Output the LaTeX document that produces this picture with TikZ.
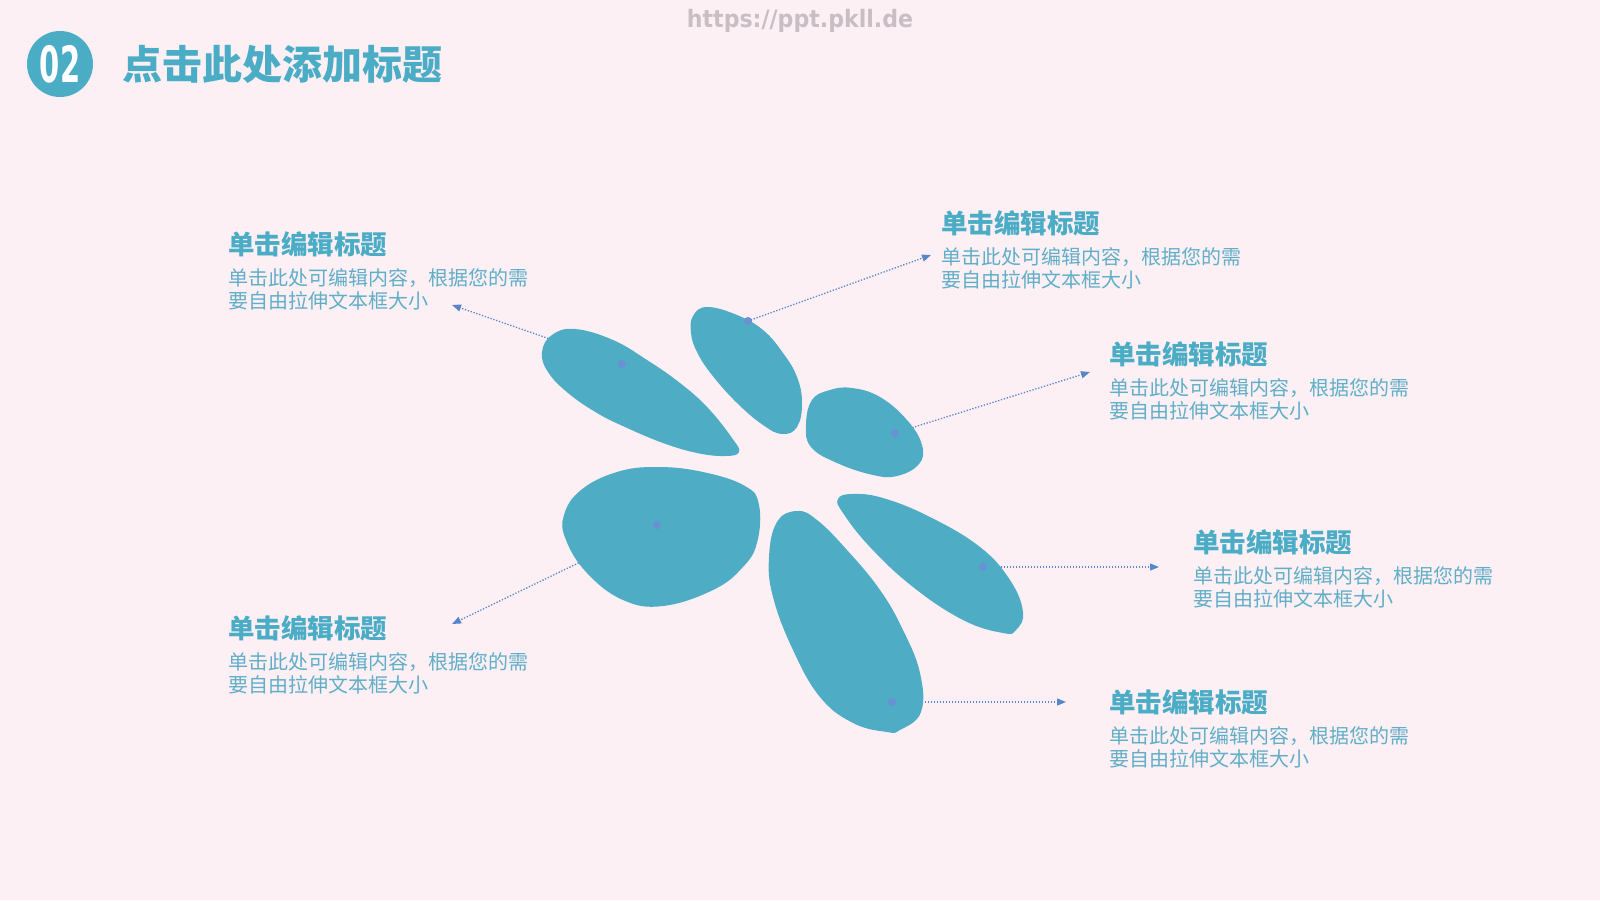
\documentclass[tikz,border=0pt]{standalone}
\usepackage{fontspec}
\setmainfont{Noto Sans CJK SC}
\newfontfamily\cjk{Noto Sans CJK SC}
\newfontfamily\numfont{DejaVu Sans}
\usepackage{xcolor}
\usetikzlibrary{arrows.meta, positioning}
\definecolor{bgpink}{RGB}{253,240,244}
\definecolor{petalblue}{RGB}{79,172,197}
\definecolor{headteal}{RGB}{75,172,198}
\definecolor{bodyteal}{RGB}{96,174,200}
\definecolor{linkblue}{RGB}{88,134,200}
\definecolor{dotblue}{RGB}{108,145,210}
\definecolor{markgray}{RGB}{200,190,196}
\tikzset{
  petal/.style={fill=petalblue, draw=none},
  hub/.style={circle, fill=dotblue, inner sep=0pt, minimum size=8pt},
  link/.style={draw=linkblue, line width=1.3pt, dash pattern=on 1.3pt off 1.7pt, -{Triangle[length=9pt, width=7pt]}},
  blocktitle/.style={anchor=west, inner sep=0pt, text=headteal, font=\cjk\bfseries\fontsize{26.5}{28}\selectfont},
  blockbody/.style={inner sep=0pt, align=left, text=bodyteal, font=\cjk\fontsize{20}{23.5}\selectfont}
}

\begin{document}
\begin{tikzpicture}[x=1pt, y=-1pt]
\useasboundingbox (0,0) rectangle (1600,900);
\fill[bgpink] (0,0) rectangle (1600,900);

% header
\node[circle, fill=headteal, minimum size=66pt, inner sep=0pt, text=white, font=\numfont\bfseries\fontsize{50}{50}\selectfont] (badge) at (60,64) {\scalebox{0.58}[1]{02}};
\node[right=29pt of badge, inner sep=0pt, text=headteal, font=\cjk\bfseries\fontsize{40}{42}\selectfont] (head) {点击此处添加标题};
\node[text=markgray, font=\numfont\bfseries\fontsize{24}{25}\selectfont] (mark) at (800,21) {\scalebox{0.92}[1]{https://ppt.pkll.de}};

% hub points and arrow ends
\coordinate (dA) at (622,364);
\coordinate (dB) at (748,321);
\coordinate (dC) at (895,433);
\coordinate (dD) at (983,567);
\coordinate (dE) at (892,702);
\coordinate (dF) at (657,525);
\coordinate (eA) at (452,305);
\coordinate (eB) at (931,255);
\coordinate (eC) at (1090,372);
\coordinate (eD) at (1159,567);
\coordinate (eE) at (1066,702);
\coordinate (eF) at (452,624);

\draw[link] (dA) -- (eA);
\draw[link] (dB) -- (eB);
\draw[link] (dC) -- (eC);
\draw[link] (dD) -- (eD);
\draw[link] (dE) -- (eE);
\draw[link] (dF) -- (eF);

% petals
\fill[petal] plot[smooth cycle, tension=0.7] coordinates {(542,352) (552,335) (575,329) (613,340) (647,360) (680,383) (708,408) (732,438) (739,452) (725,456) (697,453) (663,443) (625,427) (597,413) (568,393) (548,372)};
\fill[petal] plot[smooth cycle, tension=0.7] coordinates {(707,307) (693,316) (691,333) (697,352) (712,375) (737,403) (763,425) (782,434) (797,427) (802,403) (797,377) (783,353) (763,330) (737,315)};
\fill[petal] plot[smooth cycle, tension=0.7] coordinates {(812,400) (830,390) (852,388) (880,397) (907,420) (922,445) (919,464) (897,476) (873,475) (837,463) (811,447) (806,425)};
\fill[petal] plot[smooth cycle, tension=0.7] coordinates {(657,467) (703,472) (745,486) (759,505) (757,543) (742,568) (713,590) (663,606) (623,600) (587,573) (566,540) (564,515) (581,490) (617,472)};
\fill[petal] plot[smooth cycle, tension=0.7] coordinates {(797,511) (817,520) (847,550) (880,590) (903,630) (920,673) (921,712) (900,730) (887,732) (853,723) (820,697) (793,650) (773,597) (769,557) (777,522)};
\fill[petal] plot[smooth cycle, tension=0.7] coordinates {(838,499) (852,494) (883,498) (930,517) (980,547) (1010,580) (1023,612) (1016,630) (1003,633) (963,620) (913,587) (870,547) (843,513)};

\node[hub] (hA) at (dA) {};
\node[hub] (hB) at (dB) {};
\node[hub] (hC) at (dC) {};
\node[hub] (hD) at (dD) {};
\node[hub] (hE) at (dE) {};
\node[hub] (hF) at (dF) {};

% text blocks
\node[blocktitle] (tA) at (228,244) {单击编辑标题};
\node[blockbody, below=11pt of tA.south west, anchor=north west] (bA) {单击此处可编辑内容，根据您的需\\要自由拉伸文本框大小};
\node[blocktitle] (tB) at (941,223) {单击编辑标题};
\node[blockbody, below=11pt of tB.south west, anchor=north west] (bB) {单击此处可编辑内容，根据您的需\\要自由拉伸文本框大小};
\node[blocktitle] (tC) at (1109,354) {单击编辑标题};
\node[blockbody, below=11pt of tC.south west, anchor=north west] (bC) {单击此处可编辑内容，根据您的需\\要自由拉伸文本框大小};
\node[blocktitle] (tD) at (1193,542) {单击编辑标题};
\node[blockbody, below=11pt of tD.south west, anchor=north west] (bD) {单击此处可编辑内容，根据您的需\\要自由拉伸文本框大小};
\node[blocktitle] (tE) at (1109,702) {单击编辑标题};
\node[blockbody, below=11pt of tE.south west, anchor=north west] (bE) {单击此处可编辑内容，根据您的需\\要自由拉伸文本框大小};
\node[blocktitle] (tF) at (228,628) {单击编辑标题};
\node[blockbody, below=11pt of tF.south west, anchor=north west] (bF) {单击此处可编辑内容，根据您的需\\要自由拉伸文本框大小};
\end{tikzpicture}
\end{document}
